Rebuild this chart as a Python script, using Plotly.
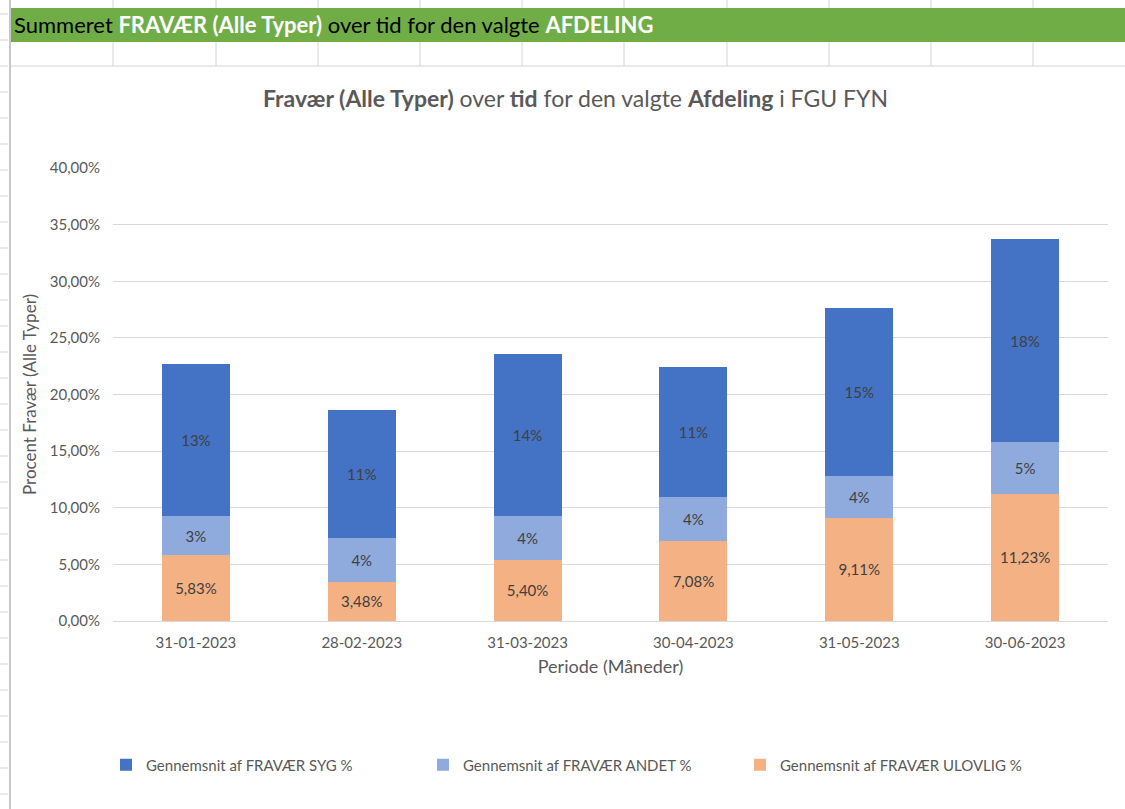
import plotly.graph_objects as go

# ---- data ----
perioder = ["31-01-2023", "28-02-2023", "31-03-2023", "30-04-2023", "31-05-2023", "30-06-2023"]
syg = [0.1345, 0.1127, 0.1431, 0.1145, 0.1483, 0.1787]
andet = [0.0340, 0.0388, 0.0387, 0.0390, 0.0372, 0.0460]
ulovlig = [0.0583, 0.0348, 0.0540, 0.0708, 0.0911, 0.1123]
y_ticks = [0, 0.05, 0.10, 0.15, 0.20, 0.25, 0.30, 0.35, 0.40]

names = ["Gennemsnit af FRAVÆR SYG %", "Gennemsnit af FRAVÆR ANDET %", "Gennemsnit af FRAVÆR ULOVLIG %"]
colors = ["#4472C4", "#8FAADC", "#F4B183"]

W, H = 1125, 809
PL, PR, PT, PB = 113, 1108, 168, 621  # plot area in pixels

def px(x):
    return (x - PL) / (PR - PL)

def py(y):
    return (PB - y) / (PB - PT)

FONT = "Lato, sans-serif"
GRAY = "#595959"

fig = go.Figure()
# stacking order: ulovlig bottom, andet middle, syg top
fig.add_trace(go.Bar(x=perioder, y=ulovlig, name=names[2], marker=dict(color=colors[2], line=dict(width=0)),
                     texttemplate="%{y:.2%}", legendrank=3))
fig.add_trace(go.Bar(x=perioder, y=andet, name=names[1], marker=dict(color=colors[1], line=dict(width=0)),
                     texttemplate="%{y:.0%}", legendrank=2))
fig.add_trace(go.Bar(x=perioder, y=syg, name=names[0], marker=dict(color=colors[0], line=dict(width=0)),
                     texttemplate="%{y:.0%}", legendrank=1))
fig.update_traces(textposition="inside", insidetextanchor="middle", textangle=0,
                  constraintext="none", hoverinfo="skip",
                  textfont=dict(family=FONT, size=15, color="#404040"))

shapes = []
LINE = "#D4D4D4"
cols = [113, 216, 318, 420, 522, 624, 727, 829, 931, 1033]
for c in cols:
    shapes.append(dict(type="line", xref="paper", yref="paper", x0=px(c), x1=px(c), y0=py(0), y1=py(8),
                       line=dict(color=LINE, width=1)))
    shapes.append(dict(type="line", xref="paper", yref="paper", x0=px(c), x1=px(c), y0=py(42), y1=py(66),
                       line=dict(color=LINE, width=1)))
shapes.append(dict(type="rect", xref="paper", yref="paper", x0=px(10), x1=px(1126), y0=py(8), y1=py(42),
                   fillcolor="#70AD47", line=dict(width=0), layer="below"))
shapes.append(dict(type="line", xref="paper", yref="paper", x0=px(10), x1=px(1126), y0=py(66), y1=py(66),
                   line=dict(color=LINE, width=1)))
shapes.append(dict(type="line", xref="paper", yref="paper", x0=px(10), x1=px(10), y0=py(0), y1=py(810),
                   line=dict(color="#C8C8C8", width=2)))
r = 14
while r < 809:
    shapes.append(dict(type="line", xref="paper", yref="paper", x0=px(0), x1=px(8), y0=py(r), y1=py(r),
                       line=dict(color=LINE, width=1)))
    r += 26

annotations = [
    dict(xref="paper", yref="paper", x=px(12), y=py(25), xanchor="left", yanchor="middle", showarrow=False,
         text='Summeret <b><span style="color:white">FRAVÆR (Alle Typer)</span></b> over tid for den valgte '
              '<b><span style="color:white">AFDELING</span></b>',
         font=dict(family=FONT, size=22, color="#000000")),
    dict(xref="paper", yref="paper", x=px(575), y=py(98), xanchor="center", yanchor="middle", showarrow=False,
         text="<b>Fravær (Alle Typer)</b> over <b>tid</b> for den valgte <b>Afdeling</b> i FGU FYN",
         font=dict(family=FONT, size=23, color=GRAY)),
]

fig.update_layout(
    width=W, height=H,
    barmode="stack", bargap=0.59,
    separators=",.",
    paper_bgcolor="white", plot_bgcolor="white",
    margin=dict(l=PL, r=W - PR, t=PT, b=H - PB, pad=0),
    font=dict(family=FONT, color=GRAY, size=15),
    shapes=shapes, annotations=annotations,
    showlegend=True,
    legend=dict(orientation="h", x=px(106), y=py(765), xanchor="left", yanchor="middle",
                entrywidth=272, entrywidthmode="pixels", itemwidth=30, traceorder="normal",
                font=dict(family=FONT, size=15, color=GRAY)),
    xaxis=dict(showline=True, linecolor="#D9D9D9", ticks="", tickfont=dict(size=15, color=GRAY),
               title=dict(text="Periode (Måneder)", font=dict(size=18, color=GRAY), standoff=10),
               ticklabelstandoff=8, fixedrange=True),
    yaxis=dict(range=[0, 0.40], tickvals=y_ticks, tickformat=".2%", showgrid=True, gridcolor="#D9D9D9",
               gridwidth=1, zeroline=False, showline=False, ticks="",
               tickfont=dict(size=15, color=GRAY), ticklabelstandoff=12,
               title=dict(text="Procent Fravær (Alle Typer)", font=dict(size=17, color=GRAY), standoff=8),
               fixedrange=True),
)

fig.write_html("out.html", config={"displayModeBar": False, "staticPlot": True},
               post_script="document.body.style.margin='0';document.body.style.overflow='hidden';")
